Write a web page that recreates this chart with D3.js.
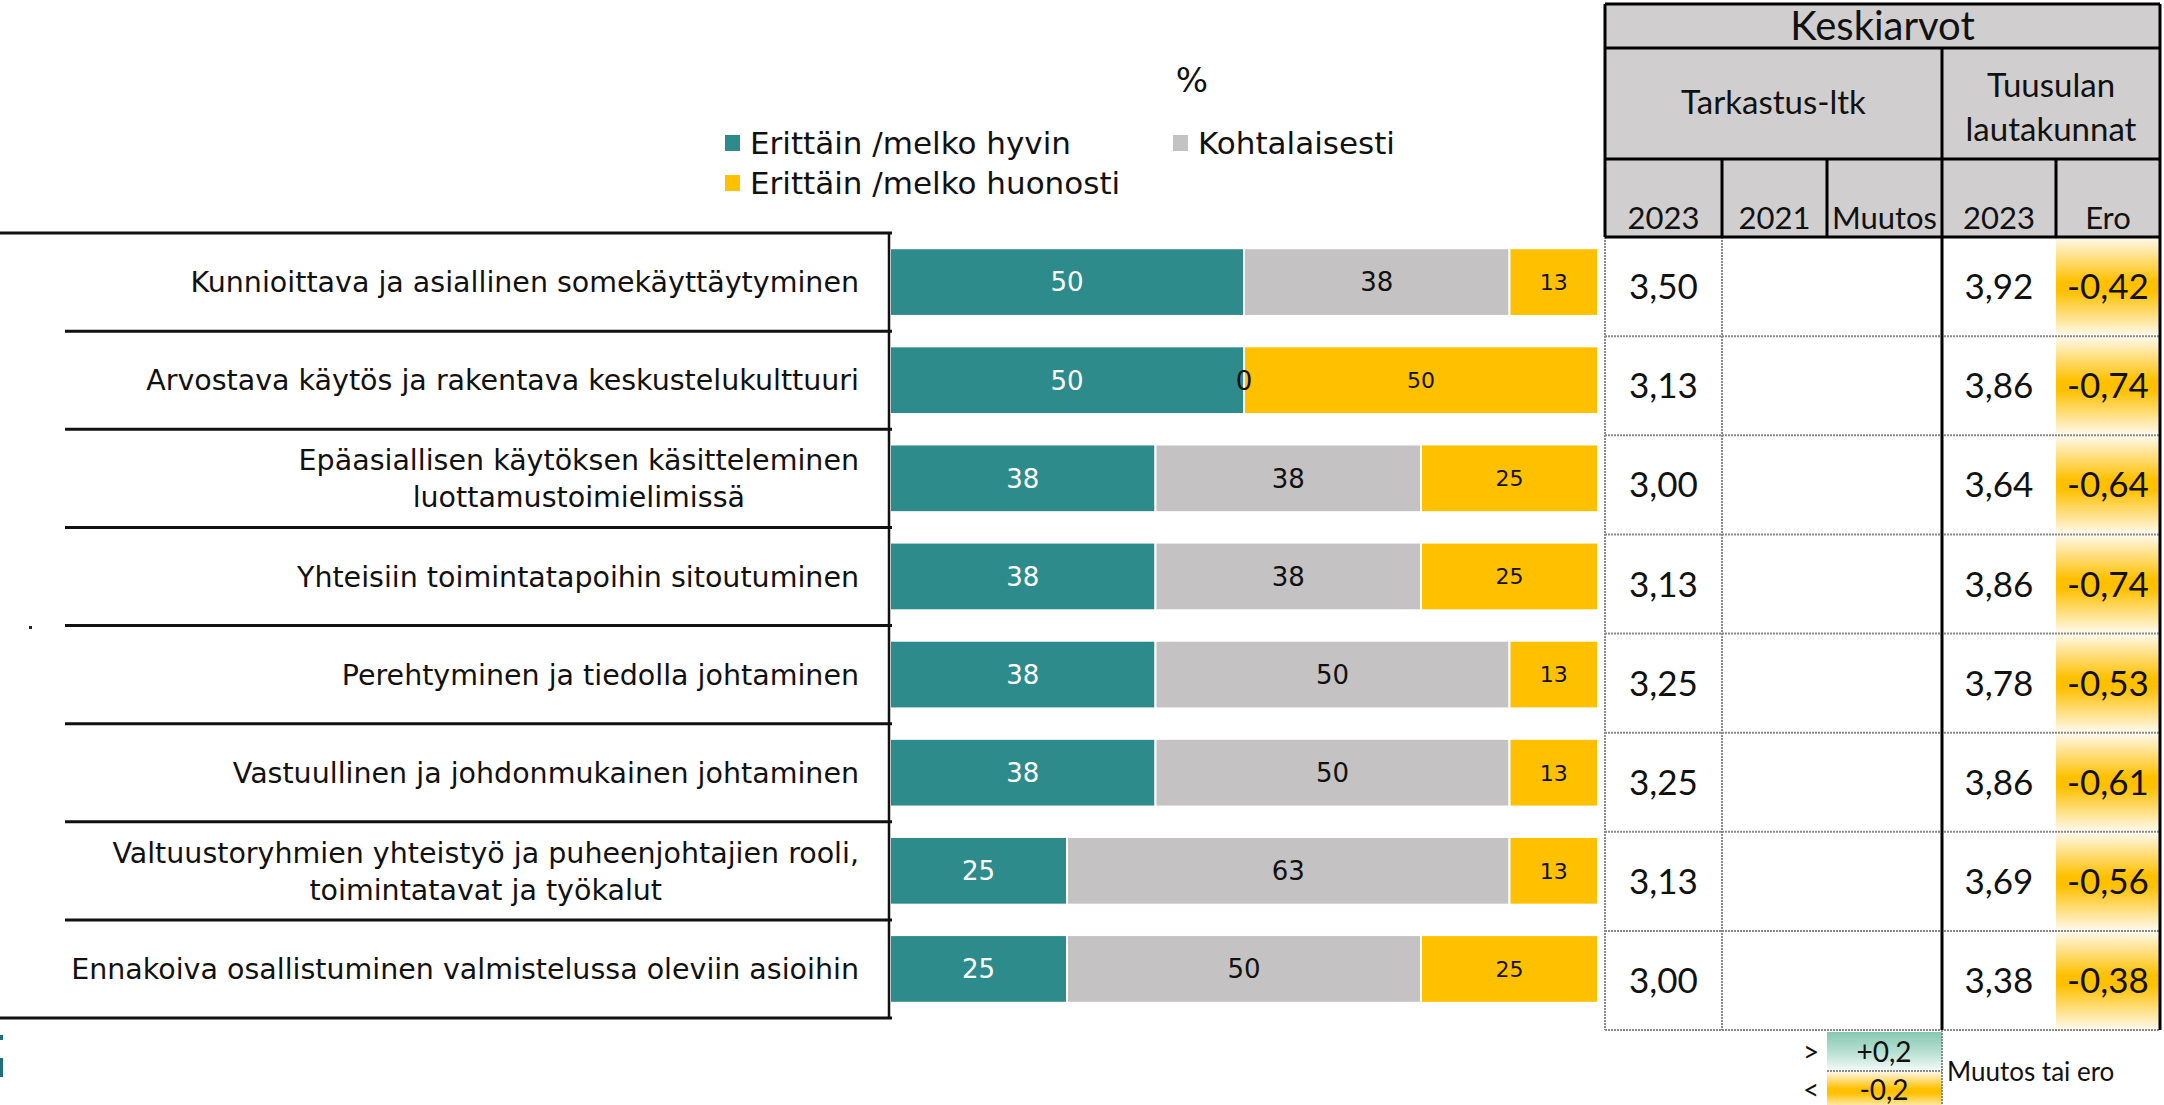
<!DOCTYPE html>
<html>
<head>
<meta charset="utf-8">
<script src="https://cdn.jsdelivr.net/npm/d3@7"></script>
<style>
  html, body { margin: 0; padding: 0; background: #ffffff; }
  svg { display: block; }
</style>
</head>
<body>
<div id="chart"></div>
<script>
// kysymykset (rivit), monirivinen nimi taulukkona
var categories = [
  ["Kunnioittava ja asiallinen somekäyttäytyminen"],
  ["Arvostava käytös ja rakentava keskustelukulttuuri"],
  ["Epäasiallisen käytöksen käsitteleminen", "luottamustoimielimissä"],
  ["Yhteisiin toimintatapoihin sitoutuminen"],
  ["Perehtyminen ja tiedolla johtaminen"],
  ["Vastuullinen ja johdonmukainen johtaminen"],
  ["Valtuustoryhmien yhteistyö ja puheenjohtajien rooli,", "toimintatavat ja työkalut"],
  ["Ennakoiva osallistuminen valmistelussa oleviin asioihin"]
];

// prosenttiosuudet
var hyvin = [50, 50, 37.5, 37.5, 37.5, 37.5, 25, 25];
var kohtalaisesti = [37.5, 0, 37.5, 37.5, 50, 50, 62.5, 50];
var huonosti = [12.5, 50, 25, 25, 12.5, 12.5, 12.5, 25];

var seriesNames = ["Erittäin /melko hyvin", "Kohtalaisesti", "Erittäin /melko huonosti"];
var seriesColors = ["#2e8b8b", "#c4c2c2", "#ffc000"];

// keskiarvot
var tarkastus2023 = [3.50, 3.13, 3.00, 3.13, 3.25, 3.25, 3.13, 3.00];
var tarkastus2021 = [null, null, null, null, null, null, null, null];
var muutos = [null, null, null, null, null, null, null, null];
var tuusula2023 = [3.92, 3.86, 3.64, 3.86, 3.78, 3.86, 3.69, 3.38];
var ero = [-0.42, -0.74, -0.64, -0.74, -0.53, -0.61, -0.56, -0.38];

var yearHeaders = ["2023", "2021", "Muutos", "2023", "Ero"];

var W = 2164, H = 1105;
var labelFont = "'DejaVu Sans', Verdana, sans-serif";
var tableFont = "Lato, 'Open Sans', sans-serif";

var svg = d3.select("#chart").append("svg")
  .attr("width", W).attr("height", H)
  .style("background", "#ffffff");

var defs = svg.append("defs");
var g1 = defs.append("linearGradient").attr("id", "yellowGrad")
  .attr("x1", 0).attr("y1", 0).attr("x2", 0).attr("y2", 1);
g1.append("stop").attr("offset", "0%").attr("stop-color", "#fffaf0");
g1.append("stop").attr("offset", "45%").attr("stop-color", "#ffc000");
g1.append("stop").attr("offset", "55%").attr("stop-color", "#ffc000");
g1.append("stop").attr("offset", "100%").attr("stop-color", "#fffaf0");
var g2 = defs.append("linearGradient").attr("id", "greenGrad")
  .attr("x1", 0).attr("y1", 0).attr("x2", 0).attr("y2", 1);
g2.append("stop").attr("offset", "0%").attr("stop-color", "#86c8b2");
g2.append("stop").attr("offset", "50%").attr("stop-color", "#b6dfd1");
g2.append("stop").attr("offset", "100%").attr("stop-color", "#f4fbf8");

var idx = d3.range(categories.length);

// ---- palkkikaavio ----
var x = d3.scaleLinear().domain([0, 100]).range([890, 1598]);
var y = d3.scaleBand().domain(idx).range([233, 1018])
  .paddingInner(0.31).paddingOuter(0.155);

var rows = idx.map(function(i) {
  return { i: i, s0: hyvin[i], s1: kohtalaisesti[i], s2: huonosti[i] };
});
var stack = d3.stack().keys(["s0", "s1", "s2"]);
var layers = stack(rows);

var barG = svg.append("g");
layers.forEach(function(layer, k) {
  barG.selectAll(".seg" + k)
    .data(layer)
    .enter().append("rect")
    .attr("x", function(d) { return x(d[0]); })
    .attr("y", function(d) { return y(d.data.i); })
    .attr("width", function(d) { return Math.max(0, x(d[1]) - x(d[0])); })
    .attr("height", y.bandwidth())
    .attr("fill", seriesColors[k])
    .attr("stroke", "#ffffff")
    .attr("stroke-width", 2);
});
layers.forEach(function(layer, k) {
  barG.selectAll(".lab" + k)
    .data(layer)
    .enter().append("text")
    .attr("x", function(d) { return (x(d[0]) + x(d[1])) / 2; })
    .attr("y", function(d) { return y(d.data.i) + y.bandwidth() / 2; })
    .attr("dy", "0.36em")
    .attr("text-anchor", "middle")
    .style("font-family", labelFont)
    .style("font-size", k == 2 ? "22px" : "26px")
    .attr("fill", k == 0 ? "#ffffff" : "#111111")
    .text(function(d) { return Math.round(d[1] - d[0]); });
});

// ---- kysymysten nimet ja viivat ----
var rowStep = y.step();
var lineG = svg.append("g").attr("stroke", "#111111").attr("stroke-width", 3);
idx.concat([categories.length]).forEach(function(i) {
  var yy = 233 + i * rowStep;
  var first = (i == 0 || i == categories.length);
  lineG.append("line")
    .attr("x1", first ? 0 : 65).attr("x2", 892)
    .attr("y1", yy).attr("y2", yy);
});
lineG.append("line").attr("x1", 889).attr("x2", 889).attr("y1", 233).attr("y2", 1018)
  .attr("stroke-width", 2.5);

var labG = svg.append("g");
categories.forEach(function(lines, i) {
  var cy = y(i) + y.bandwidth() / 2;
  var t = labG.append("text")
    .style("font-family", labelFont)
    .style("font-size", "28.5px")
    .attr("fill", "#111111");
  var n = lines.length;
  lines.forEach(function(l, j) {
    t.append("tspan").text(l)
      .attr("y", cy + (j - (n - 1) / 2) * 37)
      .attr("dy", "0.36em");
  });
  // lohko oikealle, rivit keskitetysti
  var maxW = 0;
  t.selectAll("tspan").each(function() { maxW = Math.max(maxW, this.getComputedTextLength()); });
  var cx = 859 - maxW / 2;
  t.attr("text-anchor", "middle").selectAll("tspan").attr("x", cx);
});

// pienet jäänteet vasemmassa reunassa
svg.append("rect").attr("x", 29).attr("y", 626).attr("width", 3).attr("height", 3).attr("fill", "#222");
svg.append("rect").attr("x", 0).attr("y", 1035).attr("width", 3).attr("height", 5).attr("fill", "#1f6f7d");
svg.append("rect").attr("x", 0).attr("y", 1058).attr("width", 3).attr("height", 19).attr("fill", "#1f6f7d");

// ---- otsikko ja selite ----
svg.append("text").attr("x", 1192).attr("y", 92)
  .attr("text-anchor", "middle")
  .style("font-family", labelFont).style("font-size", "34px")
  .attr("fill", "#111111").text("%");

var legendPos = [[725, 143], [1173, 143], [725, 183]];
var legG = svg.append("g");
seriesNames.forEach(function(name, k) {
  var p = legendPos[k];
  legG.append("rect").attr("x", p[0]).attr("y", p[1] - 8)
    .attr("width", 15).attr("height", 16).attr("fill", seriesColors[k]);
  legG.append("text").attr("x", p[0] + 25).attr("y", p[1])
    .attr("dy", "0.36em")
    .style("font-family", labelFont).style("font-size", "31px")
    .attr("fill", "#111111").text(name);
});

// ---- keskiarvotaulukko ----
var cols = [1605, 1722, 1827, 1942, 2056, 2160];
var tY = d3.scaleBand().domain(idx).range([237, 1030]);
var hdr = [4, 48, 159, 237];
var tab = svg.append("g");

tab.append("rect").attr("x", cols[0]).attr("y", hdr[0])
  .attr("width", cols[5] - cols[0]).attr("height", hdr[3] - hdr[0])
  .attr("fill", "#d0cece");

// ero-solujen liukuväri
tab.selectAll(".eroCell").data(idx).enter().append("rect")
  .attr("x", cols[4]).attr("y", function(i) { return tY(i); })
  .attr("width", cols[5] - cols[4]).attr("height", tY.bandwidth())
  .attr("fill", function(i) { return ero[i] <= -0.2 ? "url(#yellowGrad)" : (ero[i] >= 0.2 ? "url(#greenGrad)" : "none"); });

// pisteviivat datariveillä
var dot = tab.append("g").attr("stroke", "#8a8a8a").attr("stroke-width", 2)
  .attr("stroke-dasharray", "2,1");
idx.slice(1).concat([categories.length]).forEach(function(i) {
  var yy = 237 + i * tY.step();
  dot.append("line").attr("x1", cols[0]).attr("x2", cols[5]).attr("y1", yy).attr("y2", yy);
});
dot.append("line").attr("x1", cols[0]).attr("x2", cols[0]).attr("y1", 237).attr("y2", 1030);
dot.append("line").attr("x1", cols[1]).attr("x2", cols[1]).attr("y1", 237).attr("y2", 1030);

// otsikon kehykset
var bl = tab.append("g").attr("stroke", "#000000").attr("stroke-width", 3);
bl.append("line").attr("x1", cols[0]).attr("x2", cols[5]).attr("y1", hdr[0]).attr("y2", hdr[0]);
bl.append("line").attr("x1", cols[0]).attr("x2", cols[5]).attr("y1", hdr[1]).attr("y2", hdr[1]);
bl.append("line").attr("x1", cols[0]).attr("x2", cols[5]).attr("y1", hdr[2]).attr("y2", hdr[2]);
bl.append("line").attr("x1", cols[0]).attr("x2", cols[5]).attr("y1", hdr[3]).attr("y2", hdr[3]);
bl.append("line").attr("x1", cols[0]).attr("x2", cols[0]).attr("y1", hdr[0]).attr("y2", hdr[3]);
bl.append("line").attr("x1", cols[5]).attr("x2", cols[5]).attr("y1", hdr[0]).attr("y2", 1030);
bl.append("line").attr("x1", cols[3]).attr("x2", cols[3]).attr("y1", hdr[1]).attr("y2", 1030);
[1, 2, 4].forEach(function(c) {
  bl.append("line").attr("x1", cols[c]).attr("x2", cols[c]).attr("y1", hdr[2]).attr("y2", hdr[3]);
});

function tText(xp, yp, str, size) {
  return tab.append("text").attr("x", xp).attr("y", yp)
    .attr("text-anchor", "middle")
    .style("font-family", tableFont).style("font-size", size + "px")
    .attr("fill", "#111111").text(str);
}
tText((cols[0] + cols[5]) / 2, 40, "Keskiarvot", 40);
tText((cols[0] + cols[3]) / 2, 114, "Tarkastus-ltk", 33);
tText((cols[3] + cols[5]) / 2, 97, "Tuusulan", 33);
tText((cols[3] + cols[5]) / 2, 141, "lautakunnat", 33);
yearHeaders.forEach(function(h, c) {
  tText((cols[c] + cols[c + 1]) / 2, 229, h, 31);
});

var fmt = function(v) { return v == null ? "" : d3.format(".2f")(v).replace(".", ",").replace("\u2212", "-"); };
var colData = [tarkastus2023, tarkastus2021, muutos, tuusula2023, ero];
colData.forEach(function(arr, c) {
  tab.selectAll(".v" + c).data(idx).enter().append("text")
    .attr("x", (cols[c] + cols[c + 1]) / 2)
    .attr("y", function(i) { return tY(i) + tY.bandwidth() / 2; })
    .attr("dy", "0.36em")
    .attr("text-anchor", "middle")
    .style("font-family", tableFont).style("font-size", "35px")
    .attr("fill", "#111111")
    .text(function(i) { return fmt(arr[i]); });
});

// ---- raja-arvojen selite ----
var leg2 = svg.append("g");
leg2.append("rect").attr("x", cols[2]).attr("y", 1032).attr("width", cols[3] - cols[2]).attr("height", 39)
  .attr("fill", "url(#greenGrad)");
leg2.append("rect").attr("x", cols[2]).attr("y", 1071).attr("width", cols[3] - cols[2]).attr("height", 40)
  .attr("fill", "url(#yellowGrad)");
leg2.append("line").attr("x1", cols[2]).attr("x2", cols[3]).attr("y1", 1071).attr("y2", 1071)
  .attr("stroke", "#8a8a8a").attr("stroke-width", 2).attr("stroke-dasharray", "2,1");
leg2.append("line").attr("x1", cols[3]).attr("x2", cols[3]).attr("y1", 1030).attr("y2", 1105)
  .attr("stroke", "#8a8a8a").attr("stroke-width", 2).attr("stroke-dasharray", "2,1");
var legTxt = [[1811, 1052, ">"], [1884, 1052, "+0,2"], [1811, 1090, "<"], [1884, 1090, "-0,2"]];
legTxt.forEach(function(t) {
  leg2.append("text").attr("x", t[0]).attr("y", t[1]).attr("dy", "0.36em")
    .attr("text-anchor", "middle")
    .style("font-family", tableFont).style("font-size", "28px")
    .attr("fill", "#111111").text(t[2]);
});
leg2.append("text").attr("x", 1947).attr("y", 1072).attr("dy", "0.36em")
  .style("font-family", tableFont).style("font-size", "26px")
  .attr("fill", "#111111").text("Muutos tai ero");
</script>
</body>
</html>
